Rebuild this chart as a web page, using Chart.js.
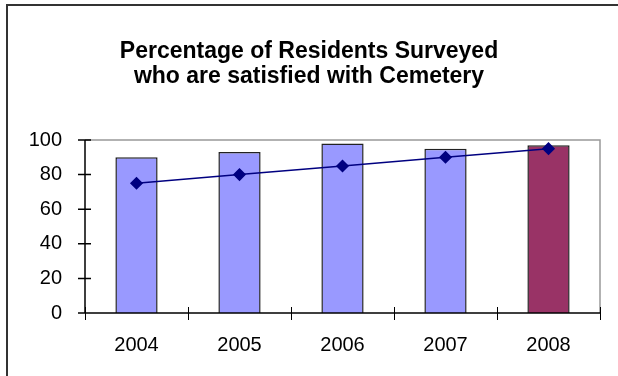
<!DOCTYPE html>
<html>
<head>
<meta charset="utf-8">
<script src="https://cdn.jsdelivr.net/npm/chart.js@4.4.1/dist/chart.umd.min.js"></script>
<style>
  body { margin: 0; background: #fff; }
  #wrap { width: 618px; height: 376px; position: relative; }
</style>
</head>
<body>
<div id="wrap"><canvas id="myChart"></canvas></div>
<script>
const years = ["2004", "2005", "2006", "2007", "2008"];
const satisfied = [90, 93, 98, 95, 97];   // bars
const trend = [75, 80, 85, 90, 95];       // line with diamonds
const yTicks = [0, 20, 40, 60, 80, 100];
const titleLines = ["Percentage of Residents Surveyed", "who are satisfied with Cemetery"];
const highlightYear = "2008";

const fontFamily = '"Liberation Sans", Arial, sans-serif';
const ctx = document.getElementById('myChart').getContext('2d');

// outer frame, title, axis lines and the tick marks that cross the axes
const decorations = {
    id: 'decorations',
    beforeDraw(chart) {
        const c = chart.ctx;
        c.save();
        c.fillStyle = '#fff';
        c.fillRect(0, 0, chart.width, chart.height);
        c.strokeStyle = '#333';
        c.lineWidth = 2;
        c.strokeRect(7, 5, chart.width + 10, chart.height + 10);

        c.fillStyle = '#000';
        c.font = 'bold 23px ' + fontFamily;
        c.textAlign = 'center';
        c.textBaseline = 'alphabetic';
        c.fillText(titleLines[0], 309, 58);
        c.fillText(titleLines[1], 309, 83);
        c.restore();
    },
    beforeDatasetsDraw(chart) {
        const c = chart.ctx;
        const area = chart.chartArea;
        c.save();
        // grey plot border on top and right
        c.strokeStyle = '#999';
        c.lineWidth = 1.5;
        c.beginPath();
        c.moveTo(area.left, area.top);
        c.lineTo(area.right, area.top);
        c.lineTo(area.right, area.bottom);
        c.stroke();
        c.restore();
    },
    afterDatasetsDraw(chart) {
        const c = chart.ctx;
        const area = chart.chartArea;
        const y = chart.scales.y;
        c.save();
        c.strokeStyle = '#000';
        c.lineWidth = 1.5;
        c.beginPath();
        // axes
        c.moveTo(area.left, area.top);
        c.lineTo(area.left, area.bottom);
        c.moveTo(area.left, area.bottom);
        c.lineTo(area.right, area.bottom);
        // y tick marks
        yTicks.forEach(v => {
            const py = y.getPixelForValue(v);
            c.moveTo(area.left - 7, py);
            c.lineTo(area.left + 6, py);
        });
        c.stroke();
        c.lineWidth = 1;
        c.beginPath();
        // x tick marks between categories
        const step = (area.right - area.left) / years.length;
        for (let i = 0; i <= years.length; i++) {
            const px = Math.round(area.left + i * step) + 0.5;
            c.moveTo(px, area.bottom - 6);
            c.lineTo(px, area.bottom + 7);
        }
        c.stroke();
        c.restore();
    }
};

const chart = new Chart(ctx, {
    data: {
        labels: years,
        datasets: [{
            type: 'line',
            data: trend,
            borderColor: '#000080',
            backgroundColor: '#000080',
            borderWidth: 1.5,
            pointStyle: 'rectRot',
            pointRadius: 5.5,
            pointBackgroundColor: '#000080',
            pointBorderColor: '#000080',
            tension: 0,
            order: 1
        }, {
            type: 'bar',
            data: satisfied,
            backgroundColor: c => years[c.dataIndex] === highlightYear ? '#993366' : '#9999FF',
            borderColor: '#222',
            borderWidth: 1.5,
            categoryPercentage: 1,
            barPercentage: 0.41,
            order: 2
        }]
    },
    options: {
        responsive: true,
        maintainAspectRatio: false,
        animation: false,
        layout: { padding: { top: 140, right: 18, left: 0, bottom: 0 } },
        plugins: {
            legend: { display: false },
            title: { display: false },
            tooltip: { enabled: false }
        },
        scales: {
            x: {
                grid: { display: false },
                border: { display: false },
                ticks: {
                    color: '#000',
                    padding: 12,
                    font: { family: fontFamily, size: 20 }
                },
                afterFit: s => { s.height = 63; }
            },
            y: {
                min: 0,
                max: 100,
                grid: { display: false },
                border: { display: false },
                afterBuildTicks: s => { s.ticks = yTicks.map(v => ({ value: v })); },
                ticks: {
                    color: '#000',
                    padding: 15,
                    font: { family: fontFamily, size: 20 }
                },
                afterFit: s => { s.width = 85; }
            }
        }
    },
    plugins: [decorations]
});
</script>
</body>
</html>
